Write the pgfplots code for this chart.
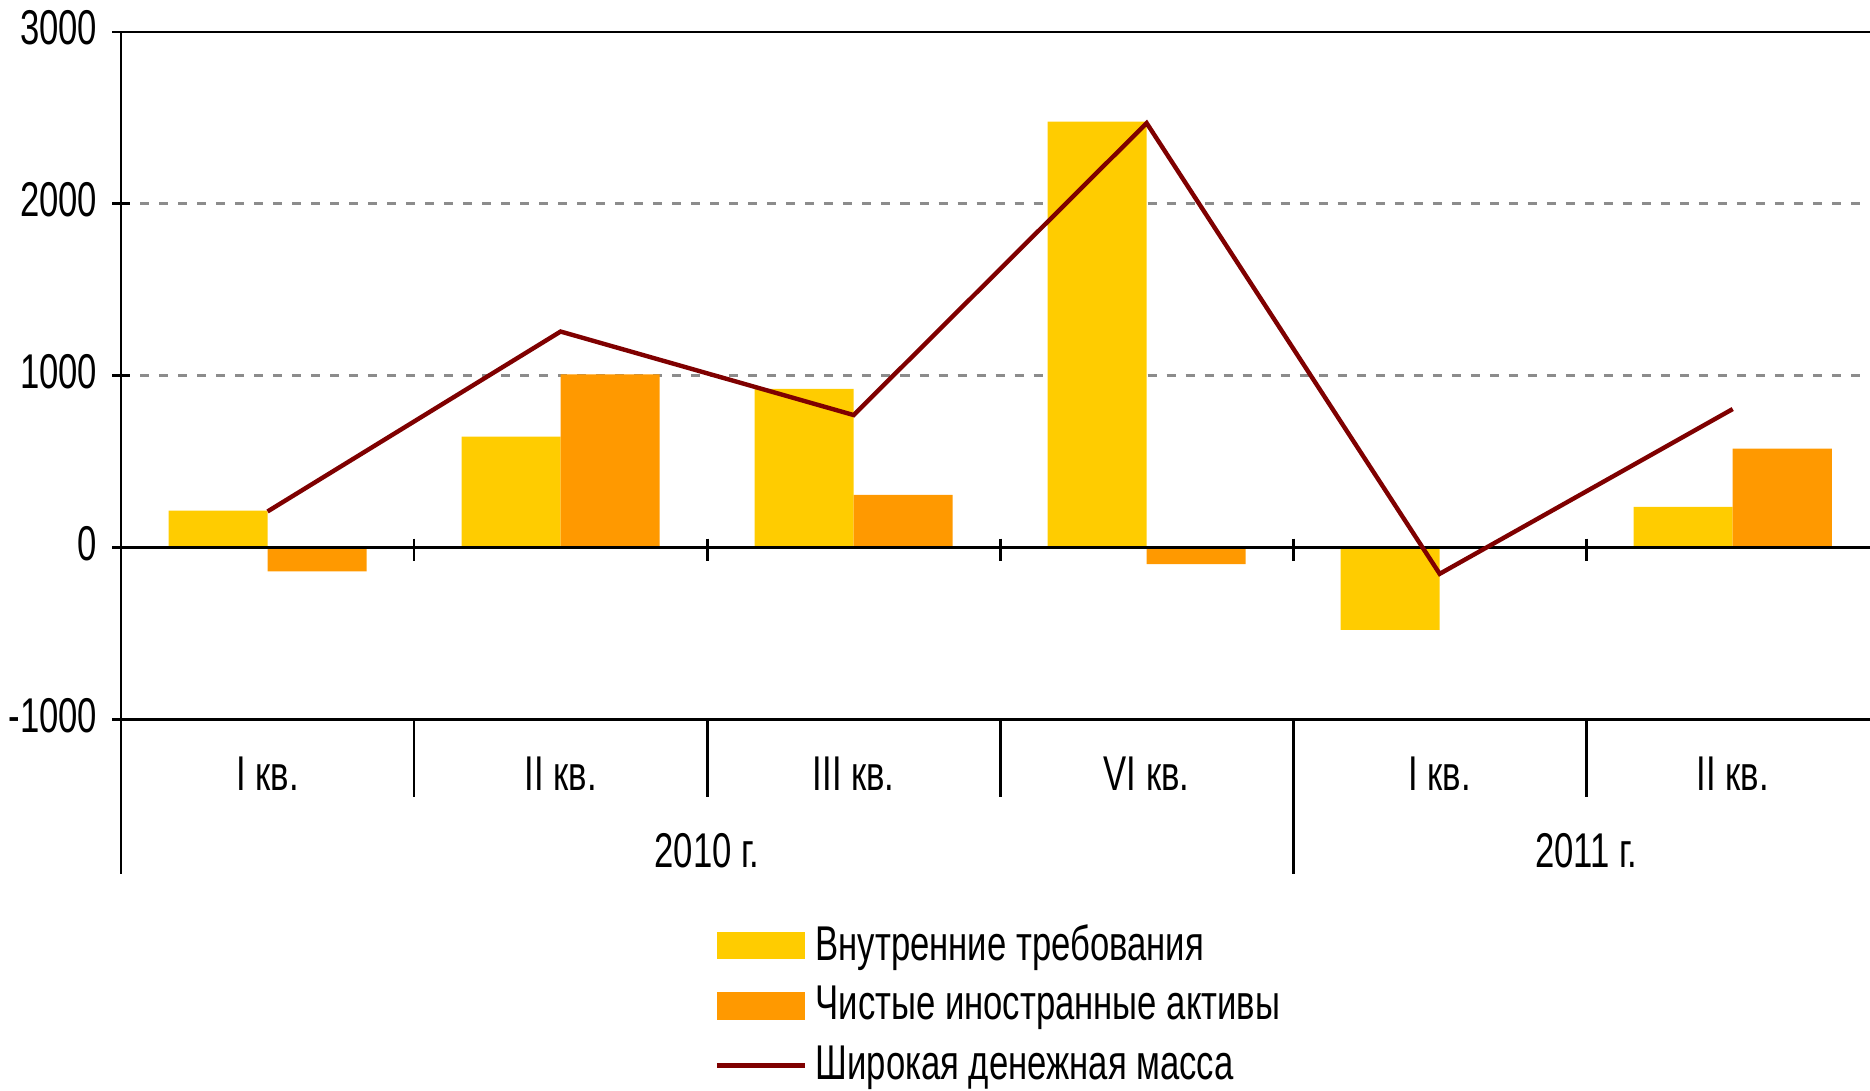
\documentclass[border=0pt]{standalone}
\usepackage{pgfplots}
\pgfplotsset{compat=1.18}
\usepackage{fontspec}
\setmainfont[FakeStretch=0.71]{Liberation Sans}

\definecolor{cyel}{HTML}{FFCC00}
\definecolor{corg}{HTML}{FF9900}
\definecolor{cline}{HTML}{7F0000}
\definecolor{cgrid}{HTML}{8C8C8C}

\begin{document}
\begin{tikzpicture}[font=\fontsize{12.2pt}{14pt}\selectfont]
\begin{axis}[
  name=ax,
  scale only axis,
  width=439.3pt, height=171.75pt,
  xmin=-0.5, xmax=5.5, ymin=-1000, ymax=3000,
  ytick={-1000,0,1000,2000,3000},
  xtick={0,1,2,3,4,5},
  xticklabels={I кв.,II кв.,III кв.,VI кв.,I кв.,II кв.},
  x tick style={draw=none},
  xticklabel style={anchor=center, inner sep=0pt, yshift=-11.3pt},
  yticklabel style={anchor=east, inner sep=0pt, xshift=-3.5pt, yshift=1pt},
  y tick style={black, line width=0.7pt},
  tick align=center,
  major tick length=4.5pt,
  ymajorgrids,
  grid style={cgrid, dash pattern=on 2.25pt off 2.5pt, line width=0.7pt},
  axis line style={line width=0.7pt},
  /pgf/number format/assume math mode=true,
  /pgf/number format/1000 sep={},
  scaled y ticks=false,
  clip=false,
  legend cell align=left,
  legend style={at={(axis description cs:0.337,-0.297)}, anchor=north west,
    draw=none, fill=none, inner sep=0pt, row sep=5.0pt,
    nodes={inner sep=0pt}, column sep=2pt},
]
\addplot[ybar, bar width=0.338, bar shift=-0.169, fill=cyel, draw=none,
  legend image code/.code={\fill[cyel] (0pt,-3.4pt) rectangle (22pt,3.4pt);}]
  coordinates {(0,215) (1,646) (2,924) (3,2479) (4,-479) (5,236)};
\addlegendentry{Внутренние требования}
\addplot[ybar, bar width=0.338, bar shift=0.169, fill=corg, draw=none,
  legend image code/.code={\fill[corg] (0pt,-3.4pt) rectangle (22pt,3.4pt);}]
  coordinates {(0,-139) (1,1007) (2,306) (3,-97) (4,0) (5,576)};
\addlegendentry{Чистые иностранные активы}
% zero line and its ticks
\draw[black, line width=0.7pt] (axis cs:-0.5,0) -- (axis cs:5.5,0);
\draw[black, line width=0.7pt] ([yshift=2.25pt]axis cs:0.5,0) -- ([yshift=-3.25pt]axis cs:0.5,0);
\draw[black, line width=0.7pt] ([yshift=2.25pt]axis cs:1.5,0) -- ([yshift=-3.25pt]axis cs:1.5,0);
\draw[black, line width=0.7pt] ([yshift=2.25pt]axis cs:2.5,0) -- ([yshift=-3.25pt]axis cs:2.5,0);
\draw[black, line width=0.7pt] ([yshift=2.25pt]axis cs:3.5,0) -- ([yshift=-3.25pt]axis cs:3.5,0);
\draw[black, line width=0.7pt] ([yshift=2.25pt]axis cs:4.5,0) -- ([yshift=-3.25pt]axis cs:4.5,0);
\addplot[cline, line width=1.1pt, mark=none,
  legend image code/.code={\draw[cline, line width=1.3pt] (0pt,0pt) -- (22pt,0pt);}]
  coordinates {(0,210) (1,1257) (2,771) (3,2470) (4,-153) (5,806)};
\addlegendentry{Широкая денежная масса}
% category separators
\draw[black, line width=0.7pt] (axis cs:0.5,-1000) -- ([yshift=-19.5pt]axis cs:0.5,-1000);
\draw[black, line width=0.7pt] (axis cs:1.5,-1000) -- ([yshift=-19.5pt]axis cs:1.5,-1000);
\draw[black, line width=0.7pt] (axis cs:2.5,-1000) -- ([yshift=-19.5pt]axis cs:2.5,-1000);
\draw[black, line width=0.7pt] (axis cs:4.5,-1000) -- ([yshift=-19.5pt]axis cs:4.5,-1000);
\draw[black, line width=0.7pt] (axis cs:-0.5,-1000) -- ([yshift=-38.75pt]axis cs:-0.5,-1000);
\draw[black, line width=0.7pt] (axis cs:3.5,-1000) -- ([yshift=-38.75pt]axis cs:3.5,-1000);
\node at (axis cs:1.5,-1000) [yshift=-32.75pt, inner sep=0pt] {2010 г.};
\node at (axis cs:4.5,-1000) [yshift=-32.75pt, inner sep=0pt] {2011 г.};
\end{axis}
\pgfresetboundingbox
\path[use as bounding box] ([xshift=-30.25pt,yshift=-92.75pt]ax.south west) rectangle ([xshift=-2.3pt,yshift=8pt]ax.north east);
\end{tikzpicture}
\end{document}
